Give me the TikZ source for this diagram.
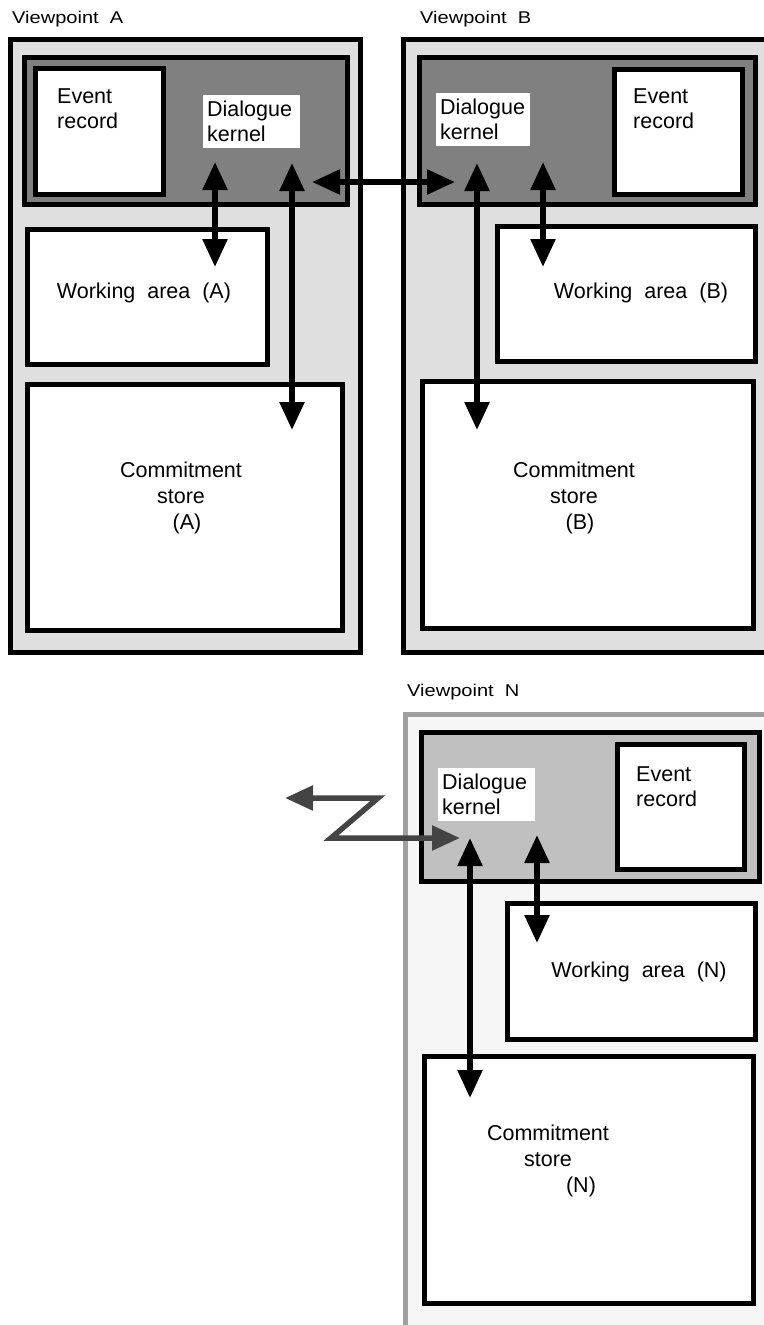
\documentclass[tikz,border=0pt]{standalone}
\usepackage{fontspec}
\setmainfont{Liberation Sans}
\newfontfamily\vpfont[FakeStretch=1.18]{Liberation Sans}
\usetikzlibrary{arrows.meta,fit}
\definecolor{lightg}{HTML}{DFDFDF}
\definecolor{midg}{HTML}{808080}
\definecolor{nfill}{HTML}{F6F6F6}
\definecolor{nborder}{HTML}{A0A0A0}
\definecolor{nkern}{HTML}{C0C0C0}
\definecolor{zcol}{HTML}{444444}
\begin{document}
\begin{tikzpicture}[x=1pt,y=-1pt,
  box/.style={draw=black, line width=5pt, inner sep=0pt, outer sep=0pt},
  outerbox/.style={box, fill=lightg},
  kernelbox/.style={box, fill=midg},
  wbox/.style={box, fill=white},
  txt/.style={font=\fontsize{21.5}{26}\selectfont, inner sep=0pt},
  txtb/.style={font=\fontsize{21.5}{25}\selectfont, inner sep=0pt},
  dk/.style={fill=white, font=\fontsize{21.5}{25}\selectfont, align=left,
    text width=89pt, minimum height=53pt, inner xsep=4pt, inner ysep=0pt, anchor=north west},
  vp/.style={font=\vpfont\fontsize{17}{20}\selectfont, inner sep=0pt, anchor=west},
  tipk/.tip={Triangle[width=24pt,length=28pt]},
  dbl/.style={line width=5.5pt, tipk-tipk},
  zarr/.style={draw=zcol, line width=5.5pt, line join=miter,
    {Triangle[width=24pt,length=28pt]}-{Triangle[width=24pt,length=28pt]}}
]
\useasboundingbox (0,0) rectangle (763,1325);

% ---------- Viewpoint A ----------
\node[outerbox, fit={(10.5,39.5) (360.5,652.5)}] (oA) {};
\node[kernelbox, fit={(24.5,57.5) (347.5,204.5)}] (kA) {};
\node[wbox, fit={(35,68.5) (163.5,194.5)}] (eA) {};
\node[wbox, fit={(27.5,229.5) (267.5,364.5)}] (wA) {};
\node[wbox, fit={(27.5,384.5) (342.5,630.5)}] (cA) {};
\node[vp] (vA) at (12,19) {Viewpoint~~A};
\node[dk] (dA) at (203,95) {Dialogue\\kernel};
\node[txtb, anchor=north west, align=left] (etA) at (57,89) {Event\\record};
\node[txt, anchor=base] (wtA) at (144,298) {Working~~area~~(A)};
\node[txt, anchor=north, align=center] (ctA) at (181,461.6) {Commitment\\store\\\hspace*{12pt}(A)};

% ---------- Viewpoint B ----------
\node[outerbox, fit={(403.5,39.5) (780,652.5)}] (oB) {};
\node[kernelbox, fit={(419.5,57.5) (755.5,204.5)}] (kB) {};
\node[wbox, fit={(614.5,69.5) (742.5,194.5)}] (eB) {};
\node[wbox, fit={(497.5,226.5) (755.5,361.5)}] (wB) {};
\node[wbox, fit={(422.5,381.5) (753.5,628.5)}] (cB) {};
\node[vp] (vB) at (420,19) {Viewpoint~~B};
\node[dk, text width=86pt, minimum height=53pt] (dB) at (436,93) {Dialogue\\kernel};
\node[txtb, anchor=north west, align=left] (etB) at (633,89) {Event\\record};
\node[txt, anchor=base] (wtB) at (641,298) {Working~~area~~(B)};
\node[txt, anchor=north, align=center] (ctB) at (574,461.6) {Commitment\\store\\\hspace*{12pt}(B)};

% ---------- Viewpoint N ----------
\node[box, draw=nborder, fill=nfill, fit={(405.5,714.5) (790,1345)}] (oN) {};
\node[box, fill=nkern, fit={(421.5,732.5) (759.5,881)}] (kN) {};
\node[wbox, fit={(617.5,744.5) (744.5,869.5)}] (eN) {};
\node[wbox, fit={(507.5,903.5) (755.5,1039.5)}] (wN) {};
\node[wbox, fit={(424.5,1056.5) (753.5,1303)}] (cN) {};
\node[vp] (vN) at (407,692) {Viewpoint~~N};
\node[dk] (dN) at (438,768) {Dialogue\\kernel};
\node[txtb, anchor=north west, align=left] (etN) at (636,766) {Event\\record};
\node[txt, anchor=base] (wtN) at (639,977) {Working~~area~~(N)};
\node[txt, anchor=north, align=center] (ctN) at (548,1125) {Commitment\\store\\\hspace*{66pt}(N)};

% ---------- arrow end points ----------
\coordinate (a1t) at (215,162);  \coordinate (a1b) at (215,267);
\coordinate (a2t) at (292,163);  \coordinate (a2b) at (292,430);
\coordinate (hl)  at (312,182);  \coordinate (hr)  at (455,182);
\coordinate (b1t) at (477,163);  \coordinate (b1b) at (477,430);
\coordinate (b2t) at (543,162);  \coordinate (b2b) at (543,267);
\coordinate (n1t) at (470,838);  \coordinate (n1b) at (470,1098);
\coordinate (n2t) at (537,835);  \coordinate (n2b) at (537,943);
\coordinate (z0) at (285,798);   \coordinate (z1) at (378,798);
\coordinate (z2) at (331,838);   \coordinate (z3) at (460,838);

\draw[dbl] (a1t) -- (a1b);
\draw[dbl] (a2t) -- (a2b);
\draw[dbl] (hl) -- (hr);
\draw[dbl] (b1t) -- (b1b);
\draw[dbl] (b2t) -- (b2b);
\draw[dbl] (n1t) -- (n1b);
\draw[dbl] (n2t) -- (n2b);
\draw[zarr] (z0) -- (z1) -- (z2) -- (z3);
\end{tikzpicture}
\end{document}
